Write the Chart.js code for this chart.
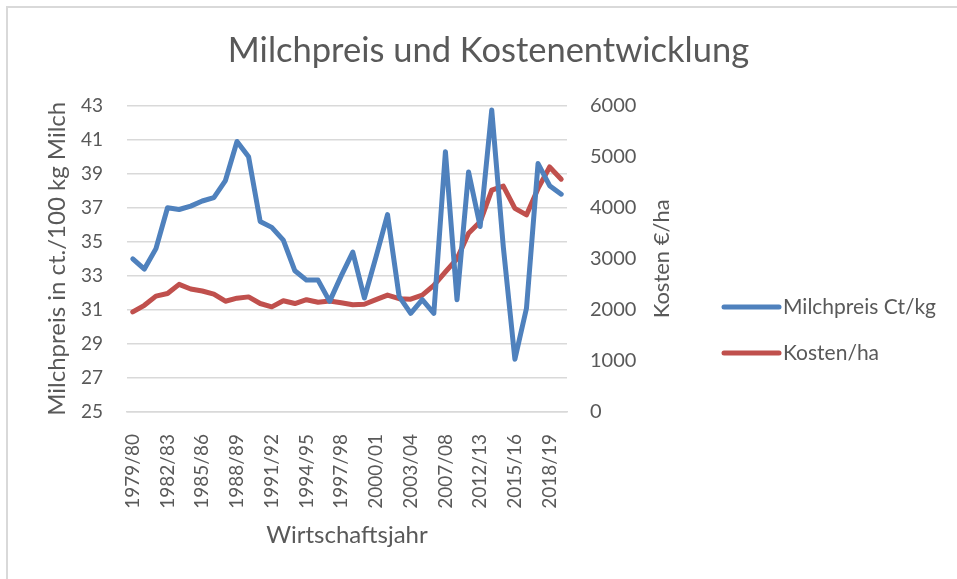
<!DOCTYPE html>
<html lang="de">
<head>
<meta charset="utf-8">
<title>Milchpreis und Kostenentwicklung</title>
<script src="https://cdn.jsdelivr.net/npm/chart.js@4/dist/chart.umd.min.js"></script>
<style>
    html, body { margin: 0; padding: 0; background: #fff; }
    #wrap { position: relative; width: 957px; height: 579px; }
</style>
</head>
<body>
<div id="wrap"><canvas id="myChart"></canvas></div>
<script>
const jahre = [
    "1979/80", "1980/81", "1981/82", "1982/83", "1983/84", "1984/85", "1985/86",
    "1986/87", "1987/88", "1988/89", "1989/90", "1990/91", "1991/92", "1992/93",
    "1993/94", "1994/95", "1995/96", "1996/97", "1997/98", "1998/99", "1999/00",
    "2000/01", "2001/02", "2002/03", "2003/04", "2005/06", "2006/07", "2007/08",
    "2009/10", "2011/12", "2012/13", "2013/14", "2014/15", "2015/16", "2016/17",
    "2017/18", "2018/19", "2019/20",
];
const milchpreis = [
    34.0, 33.4, 34.6, 37.0, 36.9, 37.1, 37.4, 37.6, 38.6, 40.9,
    40.0, 36.2, 35.85, 35.1, 33.3, 32.75, 32.75, 31.5, 33.0, 34.4,
    31.7, 34.1, 36.6, 31.8, 30.8, 31.6, 30.8, 40.3, 31.6, 39.1,
    35.9, 42.75, 34.7, 28.1, 31.1, 39.6, 38.3, 37.8,
];
const kosten = [
    1960, 2090, 2270, 2320, 2500, 2410, 2370, 2310, 2170, 2230,
    2255, 2125, 2060, 2180, 2125, 2200, 2150, 2175, 2140, 2100,
    2110, 2200, 2290, 2220, 2210, 2290, 2480, 2745, 3000, 3500,
    3725, 4345, 4425, 3990, 3860, 4380, 4800, 4560,
];

const grau = "#595959";
const schrift = "Lato, 'Open Sans', sans-serif";

// frame line, right axis title (reads bottom to top like Excel) and the legend
const extras = {
    id: "extras",
    beforeDraw(chart) {
        const ctx = chart.ctx;
        ctx.save();
        ctx.strokeStyle = "#d9d9d9";
        ctx.lineWidth = 2;
        ctx.strokeRect(7, 7, 1200, 1200);
        ctx.restore();
    },
    afterDraw(chart) {
        const ctx = chart.ctx;
        const area = chart.chartArea;
        ctx.save();
        ctx.translate(662, (area.top + area.bottom) / 2);
        ctx.rotate(-Math.PI / 2);
        ctx.font = "22px " + schrift;
        ctx.fillStyle = grau;
        ctx.textAlign = "center";
        ctx.textBaseline = "middle";
        ctx.fillText("Kosten €/ha", 0, 0);
        ctx.restore();

        // legend
        ctx.save();
        ctx.font = "21px " + schrift;
        ctx.textBaseline = "middle";
        ctx.lineCap = "round";
        chart.data.datasets.forEach((ds, i) => {
            const y = 307 + i * 46;
            ctx.strokeStyle = ds.borderColor;
            ctx.lineWidth = 5;
            ctx.beginPath();
            ctx.moveTo(724, y);
            ctx.lineTo(779, y);
            ctx.stroke();
            ctx.fillStyle = grau;
            ctx.fillText(ds.label, 783, y);
        });
        ctx.restore();
    },
};

const data = {
    labels: jahre,
    datasets: [
        {
            label: "Milchpreis Ct/kg",
            data: milchpreis,
            yAxisID: "y",
            borderColor: "#4f81bd",
            backgroundColor: "#4f81bd",
            borderWidth: 5,
            borderCapStyle: "round",
            borderJoinStyle: "round",
            pointRadius: 0,
            tension: 0,
        },
        {
            label: "Kosten/ha",
            data: kosten,
            yAxisID: "y1",
            borderColor: "#c0504d",
            backgroundColor: "#c0504d",
            borderWidth: 5,
            borderCapStyle: "round",
            borderJoinStyle: "round",
            pointRadius: 0,
            tension: 0,
        },
    ],
};

const config = {
    type: "line",
    data: data,
    options: {
        responsive: true,
        maintainAspectRatio: false,
        animation: false,
        layout: {
            padding: { left: 20, right: 0, top: 0, bottom: 0 },
        },
        scales: {
            x: {
                offset: true,
                grid: { display: false },
                border: { color: "#d9d9d9", width: 1.5 },
                ticks: {
                    autoSkip: false,
                    maxRotation: 90,
                    minRotation: 90,
                    padding: 14,
                    color: grau,
                    font: { family: schrift, size: 19 },
                    callback: function (value, index) {
                        return index % 3 === 0 ? this.getLabelForValue(value) : "";
                    },
                },
                title: {
                    display: true,
                    text: "Wirtschaftsjahr",
                    color: grau,
                    font: { family: schrift, size: 24 },
                    padding: { top: 0, bottom: 29.6 },
                },
                afterFit: (scale) => { scale.height = 167; },
            },
            y: {
                position: "left",
                min: 25,
                max: 43,
                border: { display: false },
                grid: { color: "#d9d9d9", lineWidth: 1.5, drawTicks: false },
                ticks: {
                    stepSize: 2,
                    padding: 24,
                    color: grau,
                    font: { family: schrift, size: 19 },
                },
                title: {
                    display: true,
                    text: "Milchpreis in ct./100 kg Milch",
                    color: grau,
                    font: { family: schrift, size: 24 },
                    padding: { top: 22.6, bottom: 0 },
                },
                afterFit: (scale) => { scale.width = 107; },
            },
            y1: {
                position: "right",
                min: 0,
                max: 6000,
                border: { display: false },
                grid: { drawOnChartArea: false, drawTicks: false },
                ticks: {
                    stepSize: 1000,
                    padding: 23,
                    color: grau,
                    font: { family: schrift, size: 20 },
                    callback: (value) => String(value),
                },
                afterFit: (scale) => { scale.width = 390; },
            },
        },
        plugins: {
            title: {
                display: true,
                text: "Milchpreis und Kostenentwicklung",
                color: grau,
                font: { family: schrift, size: 34.5, weight: "normal" },
                padding: { top: 30.3, bottom: 34 },
            },
            legend: { display: false },
            tooltip: { enabled: false },
        },
    },
    plugins: [extras],
};

const myChart = new Chart(document.getElementById("myChart"), config);
</script>
</body>
</html>
